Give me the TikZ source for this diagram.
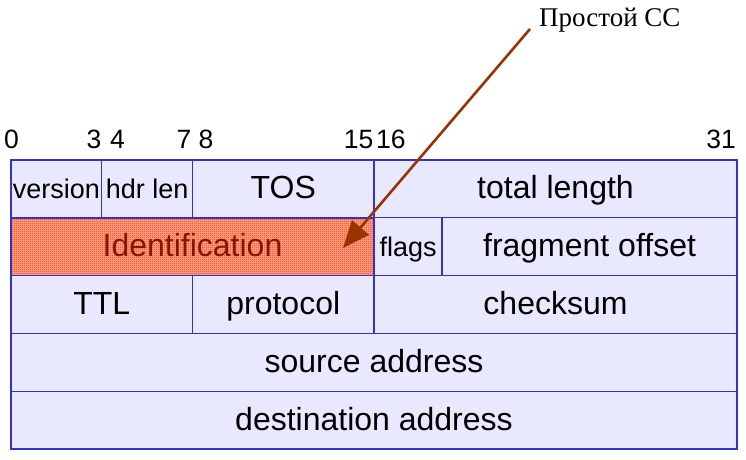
\documentclass[tikz,border=0pt]{standalone}
\usepackage{fontspec}
\setmainfont{Liberation Sans}
\newfontfamily\serifru{Liberation Serif}
\usetikzlibrary{arrows.meta,patterns}
\pgfdeclarepatternformonly{checker}{\pgfpointorigin}{\pgfpoint{2pt}{2pt}}{\pgfpoint{2pt}{2pt}}{%
 \pgfpathrectangle{\pgfpointorigin}{\pgfpoint{1pt}{1pt}}%
 \pgfpathrectangle{\pgfpoint{1pt}{1pt}}{\pgfpoint{1pt}{1pt}}%
 \pgfusepath{fill}}
\definecolor{fieldfill}{RGB}{232,232,255}
\definecolor{fieldline}{RGB}{51,51,204}
\definecolor{arrowc}{RGB}{153,51,0}
\definecolor{hatchc}{RGB}{255,51,0}
\definecolor{hatchbase}{RGB}{255,165,140}
\definecolor{identtext}{RGB}{125,25,5}
\newcommand\bw{22.6875}
\newcommand\rh{57.8}
\newcommand\fieldbox[6][]{\node[field,#1,minimum width={#4*\bw*1pt},anchor=north west] (#2) at ({11+#3*\bw},{299-#5*\rh}) {#6};}
\tikzset{
  field/.style={draw=fieldline, fill=fieldfill, line width=1.3pt, inner sep=0pt, outer sep=0pt,
    minimum height=\rh pt, text height=25pt, text depth=5pt, font=\fontsize{32}{36}\selectfont},
  smallfield/.style={font=\fontsize{27}{30}\selectfont},
  hatched/.style={draw=fieldline, line width=2.2pt, preaction={fill=hatchbase}, pattern=checker,
    pattern color=hatchc, text=identtext},
  bitnum/.style={inner sep=0pt, font=\fontsize{26.5}{30}\selectfont},
  callout/.style={inner sep=0pt, font=\serifru\fontsize{27}{30}\selectfont},
  pointer/.style={draw=arrowc, line width=2.6pt, -{Triangle[length=27pt,width=22pt]}}
}
\begin{document}
\begin{tikzpicture}[x=1pt,y=1pt]
\useasboundingbox (0,0) rectangle (746,459);
\fill[white] (0,0) rectangle (746,459);
% bit numbers
\node[bitnum,anchor=base west] (n0) at (4,311) {0};
\node[bitnum,anchor=base east] (n3) at (101.5,311) {3};
\node[bitnum,anchor=base west] (n4) at (110,311) {4};
\node[bitnum,anchor=base east] (n7) at (191.5,311) {7};
\node[bitnum,anchor=base west] (n8) at (198.5,311) {8};
\node[bitnum,anchor=base east] (n15) at (373.5,311) {15};
\node[bitnum,anchor=base west] (n16) at (376,311) {16};
\node[bitnum,anchor=base east] (n31) at (736,311) {31};
% row 0
\fieldbox[smallfield]{version}{0}{4}{0}{version}
\fieldbox[smallfield]{hdrlen}{4}{4}{0}{hdr len}
\fieldbox{tos}{8}{8}{0}{TOS}
\fieldbox{totlen}{16}{16}{0}{total length}
% row 1
\fieldbox[smallfield]{flags}{16}{3}{1}{flags}
\fieldbox{fragoff}{19}{13}{1}{fragment offset}
\fieldbox[hatched]{ident}{0}{16}{1}{Identification}
% row 2
\fieldbox{ttl}{0}{8}{2}{TTL}
\fieldbox{proto}{8}{8}{2}{protocol}
\fieldbox{chksum}{16}{16}{2}{checksum}
% rows 3-4
\fieldbox{src}{0}{32}{3}{source address}
\fieldbox{dst}{0}{32}{4}{destination address}
% callout
\node[callout,anchor=base west] (label) at (539,432.5) {Простой СС};
\coordinate (tail) at (530,430);
\coordinate (tip) at (343,211);
\draw[pointer] (tail) -- (tip);
\end{tikzpicture}
\end{document}
